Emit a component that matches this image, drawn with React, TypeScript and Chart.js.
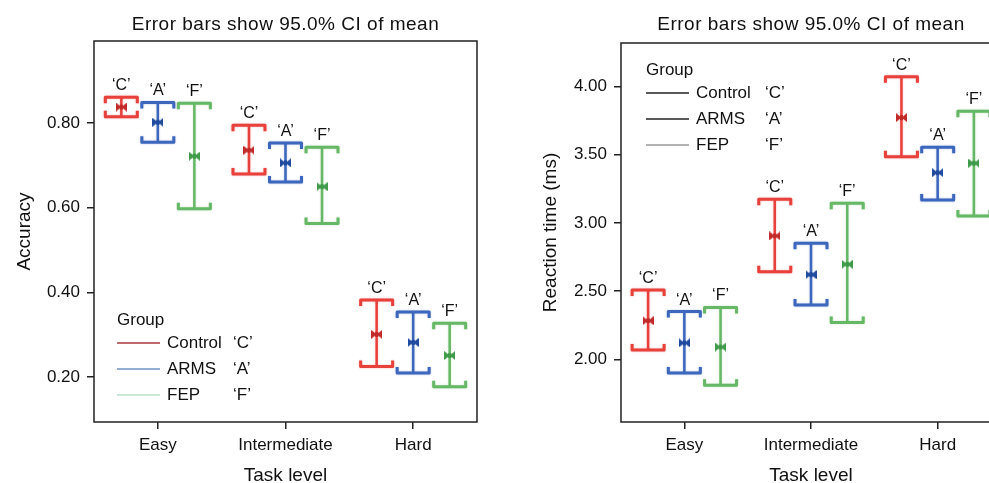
import React, { useEffect, useRef } from 'react';
import { Chart, registerables } from 'chart.js';

Chart.register(...registerables);

// ---------- data ----------
const categories = ['Easy', 'Intermediate', 'Hard'];
const groupNames = ['Control', 'ARMS', 'FEP'];
const groupCodes = ['‘C’', '‘A’', '‘F’'];
const chartTitle = 'Error bars show 95.0% CI of mean';

// Accuracy (mean, lower CI, upper CI) per task level
const accMeanC = [0.838, 0.736, 0.301];
const accLowC = [0.815, 0.68, 0.225];
const accHighC = [0.861, 0.795, 0.382];
const accMeanA = [0.802, 0.706, 0.282];
const accLowA = [0.755, 0.661, 0.21];
const accHighA = [0.849, 0.753, 0.354];
const accMeanF = [0.722, 0.65, 0.251];
const accLowF = [0.598, 0.563, 0.177];
const accHighF = [0.847, 0.743, 0.327];
const accTicks = [0.2, 0.4, 0.6, 0.8];

// Reaction time (mean, lower CI, upper CI) per task level
const rtMeanC = [2.283, 2.905, 3.773];
const rtLowC = [2.068, 2.643, 3.486];
const rtHighC = [2.508, 3.174, 4.073];
const rtMeanA = [2.12, 2.621, 3.369];
const rtLowA = [1.9, 2.398, 3.169];
const rtHighA = [2.35, 2.851, 3.555];
const rtMeanF = [2.09, 2.697, 3.438];
const rtLowF = [1.81, 2.269, 3.051];
const rtHighF = [2.38, 3.145, 3.819];
const rtTicks = [2.0, 2.5, 3.0, 3.5, 4.0];

// ---------- style ----------
const FAMILY = '"Liberation Sans", Arial, Helvetica, sans-serif';
const TEXT = '#111111';
const barColors = ['#e8413c', '#3c67bd', '#66b866'];
const markColors = ['#c22a2a', '#1f4a9e', '#3f9a4a'];
const GROUP_OFFSET = 0.286; // in category units
const CAP_HALF = 16;
const HOOK = 6;

function bowtie(color: string) {
  const c = document.createElement('canvas');
  c.width = 11;
  c.height = 9;
  const g = c.getContext('2d')!;
  g.fillStyle = color;
  g.beginPath();
  g.moveTo(0, 0);
  g.lineTo(5.5, 4.5);
  g.lineTo(0, 9);
  g.closePath();
  g.fill();
  g.beginPath();
  g.moveTo(11, 0);
  g.lineTo(5.5, 4.5);
  g.lineTo(11, 9);
  g.closePath();
  g.fill();
  g.fillRect(4, 2, 3, 5);
  return c;
}

const errorBarPlugin = {
  id: 'errorBars',
  beforeDatasetsDraw(chart: any) {
    const { ctx } = chart;
    const xs = chart.scales.x;
    const ys = chart.scales.y;
    chart.data.datasets.forEach((ds: any) => {
      ds.data.forEach((pt: any, i: number) => {
        const x = xs.getPixelForValue(pt.x);
        const yl = ys.getPixelForValue(ds.lo[i]);
        const yh = ys.getPixelForValue(ds.hi[i]);
        ctx.save();
        ctx.strokeStyle = ds.barColor;
        ctx.shadowColor = ds.barColor + '66';
        ctx.shadowBlur = 2;
        ctx.lineCap = 'butt';
        ctx.lineJoin = 'round';
        ctx.lineWidth = 2.5;
        ctx.beginPath();
        ctx.moveTo(x, yh);
        ctx.lineTo(x, yl);
        ctx.stroke();
        ctx.lineWidth = 3;
        ctx.beginPath();
        ctx.moveTo(x - CAP_HALF, yh + HOOK);
        ctx.lineTo(x - CAP_HALF, yh);
        ctx.lineTo(x + CAP_HALF, yh);
        ctx.lineTo(x + CAP_HALF, yh + HOOK);
        ctx.stroke();
        ctx.beginPath();
        ctx.moveTo(x - CAP_HALF, yl - HOOK);
        ctx.lineTo(x - CAP_HALF, yl);
        ctx.lineTo(x + CAP_HALF, yl);
        ctx.lineTo(x + CAP_HALF, yl - HOOK);
        ctx.stroke();
        ctx.restore();
        ctx.save();
        ctx.fillStyle = TEXT;
        ctx.font = `16px ${FAMILY}`;
        ctx.textAlign = 'center';
        ctx.textBaseline = 'alphabetic';
        ctx.fillText(ds.code, x, yh - 7);
        ctx.restore();
      });
    });
  },
};

const framePlugin = {
  id: 'frameAndTitle',
  afterDraw(chart: any, _args: any, opts: any) {
    const { ctx, chartArea: a } = chart;
    ctx.save();
    ctx.strokeStyle = '#222';
    ctx.lineWidth = 1.5;
    ctx.strokeRect(a.left, a.top, a.right - a.left, a.bottom - a.top);
    ctx.fillStyle = TEXT;
    ctx.font = `19px ${FAMILY}`;
    (ctx as any).letterSpacing = '0.5px';
    ctx.textAlign = 'center';
    ctx.textBaseline = 'alphabetic';
    ctx.fillText(opts.text, (a.left + a.right) / 2, opts.y);
    ctx.restore();
  },
};

const legendPlugin = {
  id: 'groupLegend',
  afterDraw(chart: any, _args: any, o: any) {
    const { ctx } = chart;
    ctx.save();
    ctx.fillStyle = TEXT;
    ctx.font = `17px ${FAMILY}`;
    ctx.textBaseline = 'middle';
    ctx.textAlign = 'left';
    ctx.fillText('Group', o.x, o.y);
    groupNames.forEach((name, i) => {
      const y = o.y + o.firstGap + i * o.rowGap;
      ctx.strokeStyle = o.lineColors[i];
      ctx.lineWidth = 1.5;
      ctx.beginPath();
      ctx.moveTo(o.x, y);
      ctx.lineTo(o.x + o.lineLen, y);
      ctx.stroke();
      ctx.fillText(name, o.x + o.textOff, y);
      ctx.fillText(groupCodes[i], o.x + o.codeOff, y);
    });
    ctx.restore();
  },
};

function makeDatasets(means: number[][], lows: number[][], highs: number[][]) {
  return groupNames.map((name, g) => ({
    label: name,
    code: groupCodes[g],
    barColor: barColors[g],
    lo: lows[g],
    hi: highs[g],
    data: categories.map((_, i) => ({ x: i + 0.5 + (g - 1) * GROUP_OFFSET, y: means[g][i] })),
    pointStyle: bowtie(markColors[g]),
    pointRadius: 5,
    showLine: false,
  }));
}

function makeConfig(p: any) {
  return {
    type: 'scatter',
    data: { datasets: makeDatasets(p.means, p.lows, p.highs) },
    plugins: [errorBarPlugin, framePlugin, legendPlugin],
    options: {
      animation: false,
      responsive: false,
      devicePixelRatio: 1,
      events: [],
      layout: { padding: { top: p.top, right: p.right, left: 0, bottom: 0 } },
      plugins: {
        legend: { display: false },
        tooltip: { enabled: false },
        title: { display: false },
        frameAndTitle: { text: chartTitle, y: 29.5 },
        groupLegend: p.legend,
      },
      scales: {
        x: {
          type: 'linear',
          min: 0,
          max: 3,
          afterBuildTicks: (s: any) => {
            s.ticks = categories.map((_, i) => ({ value: i + 0.5 }));
          },
          afterFit: (s: any) => {
            s.height = 61;
          },
          ticks: {
            callback: (_v: any, i: number) => categories[i],
            font: { family: FAMILY, size: 17 },
            color: TEXT,
            padding: 6,
            maxRotation: 0,
            autoSkip: false,
          },
          grid: { display: true, drawOnChartArea: false, drawTicks: true, tickLength: 7, color: '#222', lineWidth: 1.5 },
          border: { display: false },
          title: {
            display: true,
            text: 'Task level',
            font: { family: FAMILY, size: 19, lineHeight: 0.8 },
            color: TEXT,
            padding: { top: 0, bottom: 0 },
          },
        },
        y: {
          type: 'linear',
          min: p.yMin,
          max: p.yMax,
          afterBuildTicks: (s: any) => {
            s.ticks = p.ticks.map((v: number) => ({ value: v }));
          },
          afterFit: (s: any) => {
            s.width = p.yAxisW;
          },
          ticks: {
            callback: (v: any) => Number(v).toFixed(2),
            font: { family: FAMILY, size: 17 },
            color: TEXT,
            padding: 7,
          },
          grid: { display: true, drawOnChartArea: false, drawTicks: true, tickLength: 7, color: '#222', lineWidth: 1.5 },
          border: { display: false },
          title: {
            display: true,
            text: p.yTitle,
            font: { family: FAMILY, size: 19, lineHeight: 1 },
            color: TEXT,
            padding: { top: p.yTitlePad, bottom: 0 },
          },
        },
      },
    },
  };
}

function ChartPanel({ params, left, width }: { params: any; left: number; width: number }) {
  const ref = useRef<HTMLCanvasElement | null>(null);
  useEffect(() => {
    const chart = new Chart(ref.current as HTMLCanvasElement, makeConfig(params) as any);
    return () => chart.destroy();
  }, []);
  return (
    <canvas
      ref={ref}
      width={width}
      height={483}
      style={{ position: 'absolute', left, top: 0, width, height: 483 }}
    />
  );
}

const accParams = {
  means: [accMeanC, accMeanA, accMeanF],
  lows: [accLowC, accLowA, accLowF],
  highs: [accHighC, accHighA, accHighF],
  ticks: accTicks,
  yMin: 0.094,
  yMax: 0.994,
  yTitle: 'Accuracy',
  yTitlePad: 15.5,
  yAxisW: 94,
  top: 41,
  right: 23,
  legend: {
    x: 117,
    y: 320,
    firstGap: 23,
    rowGap: 26,
    lineLen: 43,
    textOff: 50,
    codeOff: 116,
    lineColors: ['#a83a3a', '#6e93c4', '#b9e0c8'],
  },
};

const rtParams = {
  means: [rtMeanC, rtMeanA, rtMeanF],
  lows: [rtLowC, rtLowA, rtLowF],
  highs: [rtHighC, rtHighA, rtHighF],
  ticks: rtTicks,
  yMin: 1.54,
  yMax: 4.32,
  yTitle: 'Reaction time (ms)',
  yTitlePad: 41.5,
  yAxisW: 121,
  top: 43,
  right: 19,
  legend: {
    x: 146,
    y: 70,
    firstGap: 23,
    rowGap: 26,
    lineLen: 43,
    textOff: 50,
    codeOff: 119,
    lineColors: ['#222222', '#222222', '#9a9a9a'],
  },
};

export default function App() {
  return (
    <div
      style={{
        position: 'fixed',
        left: 0,
        top: 0,
        width: 989,
        height: 483,
        overflow: 'hidden',
        background: '#ffffff',
      }}
    >
      <ChartPanel params={accParams} left={0} width={500} />
      <ChartPanel params={rtParams} left={500} width={520} />
    </div>
  );
}
